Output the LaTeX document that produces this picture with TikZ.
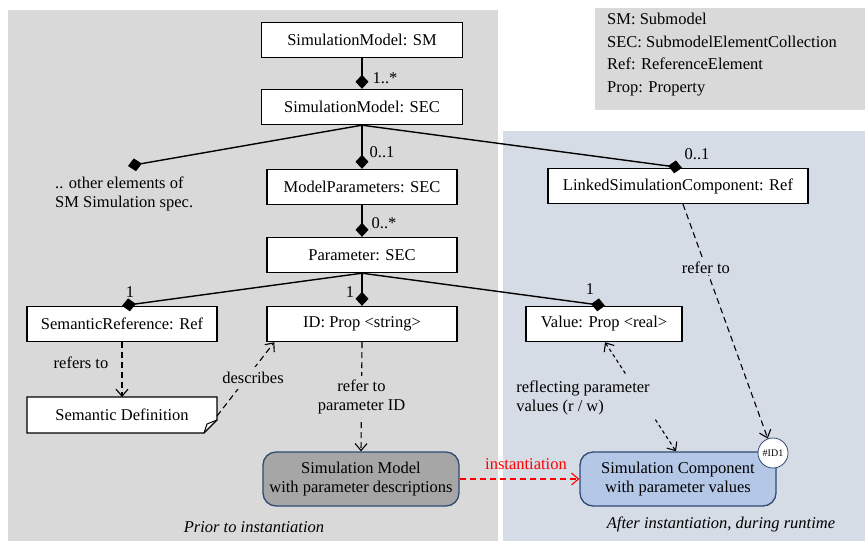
\documentclass[tikz,border=0pt]{standalone}
\usepackage{fontspec}
\setmainfont{Liberation Serif}
\usetikzlibrary{arrows.meta}
\definecolor{panelgray}{HTML}{D9D9D9}
\definecolor{panelblue}{HTML}{D6DCE5}
\definecolor{modelgray}{HTML}{A6A6A6}
\definecolor{compblue}{HTML}{B4C7E7}
\definecolor{navy}{HTML}{2F4A73}
\definecolor{instred}{HTML}{FF0000}
\begin{document}
\begin{tikzpicture}[x=1pt,y=-1pt,
  font=\fontsize{16.5}{19}\selectfont,
  umlbox/.style={draw=black, fill=white, line width=1.4pt, minimum height=35pt, inner sep=2pt},
  rbox/.style={draw=navy, line width=1.3pt, rounded corners=13pt, minimum width=196pt, minimum height=54pt, align=center, inner sep=2pt},
  comp/.style={line width=1.4pt, -{Diamond[length=14pt,width=13pt]}},
  dep/.style={line width=1.1pt, dash pattern=on 6pt off 4pt, -{Straight Barb[length=7pt,width=12pt]}},
  rw/.style={line width=1.1pt, dash pattern=on 3.5pt off 3pt, {Straight Barb[length=7pt,width=12pt]}-{Straight Barb[length=7pt,width=12pt]}},
  mult/.style={inner sep=1pt},
  lbl/.style={inner sep=3pt, align=center}
]
\useasboundingbox (0,0) rectangle (865,541);
\fill[white] (0,0) rectangle (865,541);

% panels
\fill[panelgray] (8,10) rectangle (498,541);
\fill[panelblue] (503,131) rectangle (865,541);
\fill[panelgray] (595,8) rectangle (865,110);

% legend
\node[anchor=north west, align=left, inner sep=0pt, font=\fontsize{16.5}{22.6}\selectfont] (legend) at (607,13)
  {SM: Submodel\\SEC: SubmodelElementCollection\\Ref: ReferenceElement\\Prop: Property};

% model elements
\node[umlbox, minimum width=201pt] (sm) at (362,40) {SimulationModel: SM};
\node[umlbox, minimum width=201pt] (simsec) at (362,107) {SimulationModel: SEC};
\node[umlbox, minimum width=190pt] (mparams) at (362,187) {ModelParameters: SEC};
\node[umlbox, minimum width=190pt] (param) at (362,255) {Parameter: SEC};
\node[umlbox, minimum width=260pt] (linked) at (678,186) {LinkedSimulationComponent: Ref};
\node[umlbox, minimum width=190pt] (semref) at (122,324) {SemanticReference: Ref};
\node[umlbox, minimum width=190pt] (idprop) at (362,324) {ID: Prop <string>};
\node[umlbox, minimum width=156pt] (value) at (604,324) {Value: Prop <real>};
\node[align=left, anchor=west, inner sep=0pt] (other) at (55,194) {.. other elements of\\SM Simulation spec.};
\coordinate (otherend) at (128,166);

% semantic definition (note with folded corner)
\draw[line width=1.4pt, fill=white] (27,397) -- (217,397) -- (217,420) -- (204,433) -- (27,433) -- cycle;
\draw[line width=1pt] (217,420) -- (207,424) -- (204,433);
\node[inner sep=0pt] (semdef) at (122,415) {Semantic Definition};
\coordinate (semdeftop) at (122,397);
\coordinate (semdefright) at (217,416);

% runtime elements
\node[rbox, fill=modelgray] (simmodel) at (361,479) {Simulation Model\\with parameter descriptions};
\node[rbox, fill=compblue] (simcomp) at (678,479) {Simulation Component\\with parameter values};
\node[circle, draw=navy, line width=0.8pt, fill=white, minimum size=30pt, inner sep=0pt,
  font=\fontsize{10}{12}\selectfont] (id1) at (773,453) {\#ID1};

% composition links
\draw[comp] (sm.south) -- (simsec.north);
\draw[comp] (simsec.south) -- (mparams.north);
\draw[comp] (simsec.south) -- (otherend);
\draw[comp] (simsec.south) -- ([xshift=4pt]linked.north);
\draw[comp] (mparams.south) -- (param.north);
\draw[comp] (param.south) -- (semref.north);
\draw[comp] (param.south) -- (idprop.north);
\draw[comp] (param.south) -- ([xshift=1pt]value.north);

% multiplicities
\node[mult] (m1) at (385,78) {1..*};
\node[mult] (m2) at (382,152) {0..1};
\node[mult] (m3) at (384,223) {0..*};
\node[mult] (m4) at (697,154) {0..1};
\node[mult] (m5) at (130,292) {1};
\node[mult] (m6) at (350,292) {1};
\node[mult] (m7) at (590,289) {1};

% dependencies
\draw[dep] (semref.south) -- (semdeftop);
\node[lbl] (reflbl) at (81,363) {refers to};

\draw[dep] (semdefright) -- ([xshift=8pt]idprop.south west);
\node[lbl, fill=panelgray, inner xsep=2pt, inner ysep=5pt] (desc) at (253,378) {describes};

\draw[dep] (idprop.south) -- (simmodel.north)
  node[midway, lbl, fill=panelgray, inner ysep=4pt] (idlbl) {refer to\\parameter ID};

\draw[dep] ([xshift=5pt]linked.south) -- (id1)
  node[pos=0.27, lbl, fill=panelblue, inner ysep=2pt] (reflink) {refer to};

\draw[rw] ([xshift=1pt]value.south) -- ([xshift=-2pt]simcomp.north);
\node[align=left, fill=panelblue, inner xsep=5pt, inner ysep=6pt] (rwlbl) at (583,398) {reflecting parameter\\values (r / w)};

\draw[dep, instred] (simmodel.east) -- (simcomp.west);
\node[text=instred, inner sep=1pt] (instlbl) at (526,464) {instantiation};

% phase captions
\node[font=\fontsize{16.5}{19}\selectfont\itshape] (prior) at (254,527) {Prior to instantiation};
\node[font=\fontsize{16.5}{19}\selectfont\itshape] (after) at (721,524) {After instantiation, during runtime};
\end{tikzpicture}
\end{document}
